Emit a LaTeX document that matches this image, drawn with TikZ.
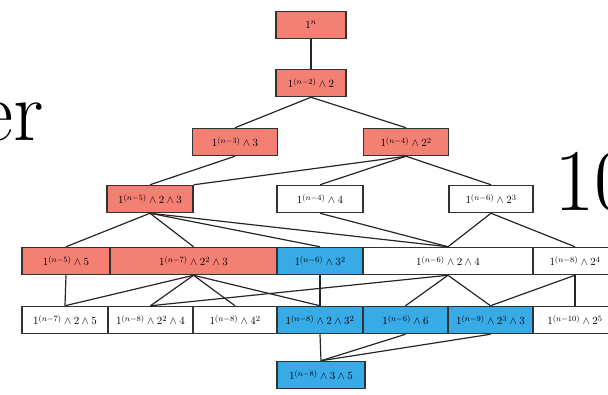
\documentclass[tikz,border=0pt]{standalone}
\usepackage{amsmath}
\definecolor{salmon}{RGB}{244,128,116}
\definecolor{sky}{RGB}{56,170,230}
\definecolor{framegray}{RGB}{50,50,50}

\begin{document}
\begin{tikzpicture}[x=1pt, y=-1pt,
    box/.style={draw=framegray, line width=1.5pt, minimum height=27pt, inner sep=0pt,
      font=\fontsize{11}{12}\selectfont},
    redbox/.style={box, fill=salmon},
    bluebox/.style={box, fill=sky},
    whitebox/.style={box, fill=white},
    link/.style={line width=1.2pt, black!85}]
    \useasboundingbox (0,0) rectangle (608,394);
    \clip (0,0) rectangle (608,394);

    % pieces of the surrounding text
    \node[anchor=base east, inner sep=0pt, font=\fontsize{86}{90}\selectfont] (er) at (44,140) {er};
    \node[anchor=base west, inner sep=0pt, font=\fontsize{88}{90}\selectfont] (ten) at (554,210) {10};

    % top of the lattice
    \node[redbox, minimum width=70pt] (top) at (311,25) {$1^n$};
    \node[redbox, minimum width=70pt] (a1) at (311,83) {$1^{(n-2)}\wedge 2$};

    % second level
    \node[redbox, minimum width=85pt] (b1) at (235,142) {$1^{(n-3)}\wedge 3$};
    \node[redbox, minimum width=85pt] (b2) at (406,142) {$1^{(n-4)}\wedge 2^2$};

    % third level
    \node[redbox, minimum width=86pt] (c1) at (150,199) {$1^{(n-5)}\wedge 2\wedge 3$};
    \node[whitebox, minimum width=86pt] (c2) at (320,199) {$1^{(n-4)}\wedge 4$};
    \node[whitebox, minimum width=84pt] (c3) at (491,199) {$1^{(n-6)}\wedge 2^3$};

    % fourth level
    \node[redbox, minimum width=88pt] (d1) at (66,261) {$1^{(n-5)}\wedge 5$};
    \node[redbox, minimum width=167pt] (d2) at (193.5,261) {$1^{(n-7)}\wedge 2^2\wedge 3$};
    \node[bluebox, minimum width=86pt] (d3) at (320,261) {$1^{(n-6)}\wedge 3^2$};
    \node[whitebox, minimum width=170pt] (d4) at (448,261) {$1^{(n-6)}\wedge 2\wedge 4$};
    \node[whitebox, minimum width=84pt] (d5) at (575,261) {$1^{(n-8)}\wedge 2^4$};

    % fifth level
    \node[whitebox, minimum width=86pt] (e1) at (65,320) {$1^{(n-7)}\wedge 2\wedge 5$};
    \node[whitebox, minimum width=85pt] (e2) at (150.5,320) {$1^{(n-8)}\wedge 2^2\wedge 4$};
    \node[whitebox, minimum width=84pt] (e3) at (235,320) {$1^{(n-8)}\wedge 4^2$};
    \node[bluebox, minimum width=86pt] (e4) at (320,320) {$1^{(n-8)}\wedge 2\wedge 3^2$};
    \node[bluebox, minimum width=85pt] (e5) at (405.5,320) {$1^{(n-6)}\wedge 6$};
    \node[bluebox, minimum width=85pt] (e6) at (490.5,320) {$1^{(n-9)}\wedge 2^3\wedge 3$};
    \node[whitebox, minimum width=84pt] (e7) at (575,320) {$1^{(n-10)}\wedge 2^5$};

    % bottom
    \node[bluebox, minimum width=88pt] (f1) at (321,375) {$1^{(n-8)}\wedge 3\wedge 5$};

    % cover relations
    \draw[link] (top) -- (a1);
    \draw[link] (a1.south) -- (b1.north);
    \draw[link] (a1.south) -- (b2.north);
    \draw[link] (b1.south) -- (c1.north);
    \draw[link] (b2.south) -- (c1.north east);
    \draw[link] (b2.south) -- (c2.north);
    \draw[link] (b2.south) -- (c3.north);
    \draw[link] (c1.south) -- (d1.north);
    \draw[link] (c1.south) -- (d2.north);
    \draw[link] (c1.south) -- (d3.north);
    \draw[link] (c1.south) -- (d4.north);
    \draw[link] (c2.south) -- (d4.north);
    \draw[link] (c3.south) -- (d4.north);
    \draw[link] (c3.south) -- (d5.north);
    \draw[link] (d1.south) -- (e1.north);
    \draw[link] (d2.south) -- (e1.north);
    \draw[link] (d2.south) -- (e2.north);
    \draw[link] (d2.south) -- (e3.north);
    \draw[link] (d2.south) -- (e4.north);
    \draw[link] (d3.south) -- (e4.north);
    \draw[link] (d4.south) -- (e2.north);
    \draw[link] (d4.south) -- (e5.north);
    \draw[link] (d4.south) -- (e6.north);
    \draw[link] (d5.south) -- (e6.north);
    \draw[link] (d5.south) -- (e7.north);
    \draw[link] (e4.south) -- (f1.north);
    \draw[link] (e5.south) -- (f1.north);
    \draw[link] (e6.south) -- (f1.north);
\end{tikzpicture}
\end{document}
